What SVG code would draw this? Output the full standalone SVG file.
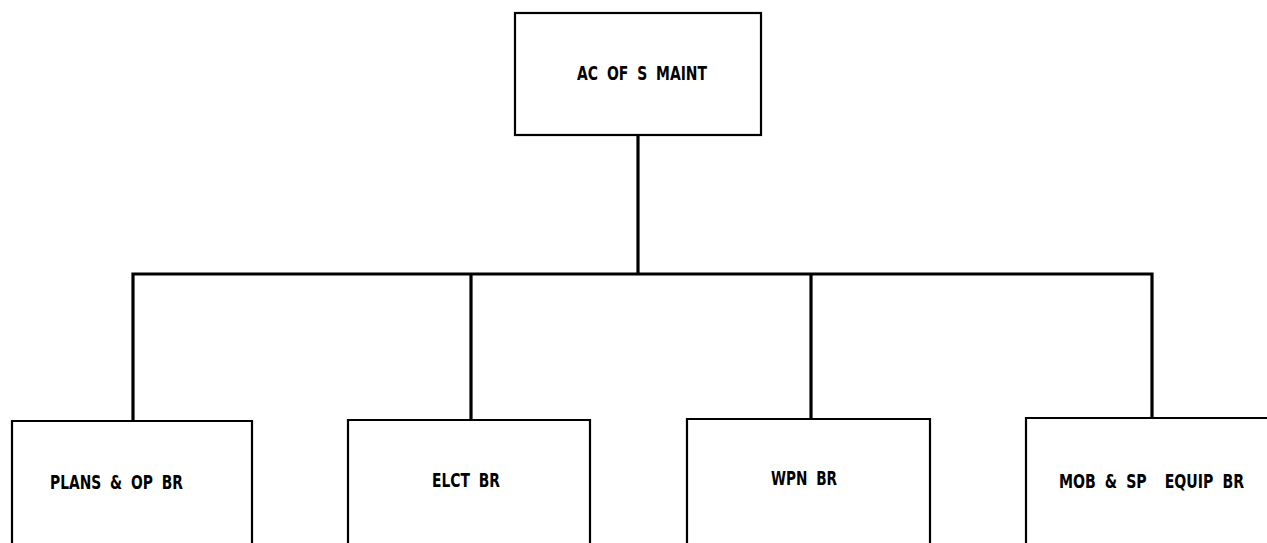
<svg xmlns="http://www.w3.org/2000/svg" width="1267" height="543" viewBox="0 0 1267 543">
<style>
.box{fill:none;stroke:#000;stroke-width:2.2;stroke-linejoin:miter}
.conn{fill:none;stroke:#000;stroke-width:3.2;stroke-linejoin:miter}
.lbl{font-family:"DejaVu Sans Condensed","DejaVu Sans",sans-serif;font-stretch:condensed;font-weight:bold;font-size:19px;word-spacing:5px;fill:#000}
</style>
<rect width="1267" height="543" fill="#fff"/>
<g id="connectors">
<path class="conn" d="M638 135 V274"/>
<path class="conn" d="M133 421 V274 H1152 V419"/>
<path class="conn" d="M471 274 V420"/>
<path class="conn" d="M811 274 V419"/>
</g>
<g id="node-acofs">
<rect class="box" x="515" y="13" width="246" height="122"/>
<text class="lbl" x="577" y="80" textLength="130" lengthAdjust="spacingAndGlyphs">AC OF S MAINT</text>
</g>
<g id="node-plans">
<path class="box" d="M12 545 V421 H252 V545"/>
<text class="lbl" x="50" y="489" textLength="133" lengthAdjust="spacingAndGlyphs">PLANS &amp; OP BR</text>
</g>
<g id="node-elct">
<path class="box" d="M348 545 V420 H590 V545"/>
<text class="lbl" x="432" y="487" textLength="68" lengthAdjust="spacingAndGlyphs">ELCT BR</text>
</g>
<g id="node-wpn">
<path class="box" d="M687 545 V419 H930 V545"/>
<text class="lbl" x="771" y="485" textLength="66" lengthAdjust="spacingAndGlyphs">WPN BR</text>
</g>
<g id="node-mob">
<path class="box" d="M1026 545 V418 H1270"/>
<text class="lbl" x="1059" y="488" textLength="185" lengthAdjust="spacingAndGlyphs" xml:space="preserve">MOB &amp; SP  EQUIP BR</text>
</g>
</svg>
